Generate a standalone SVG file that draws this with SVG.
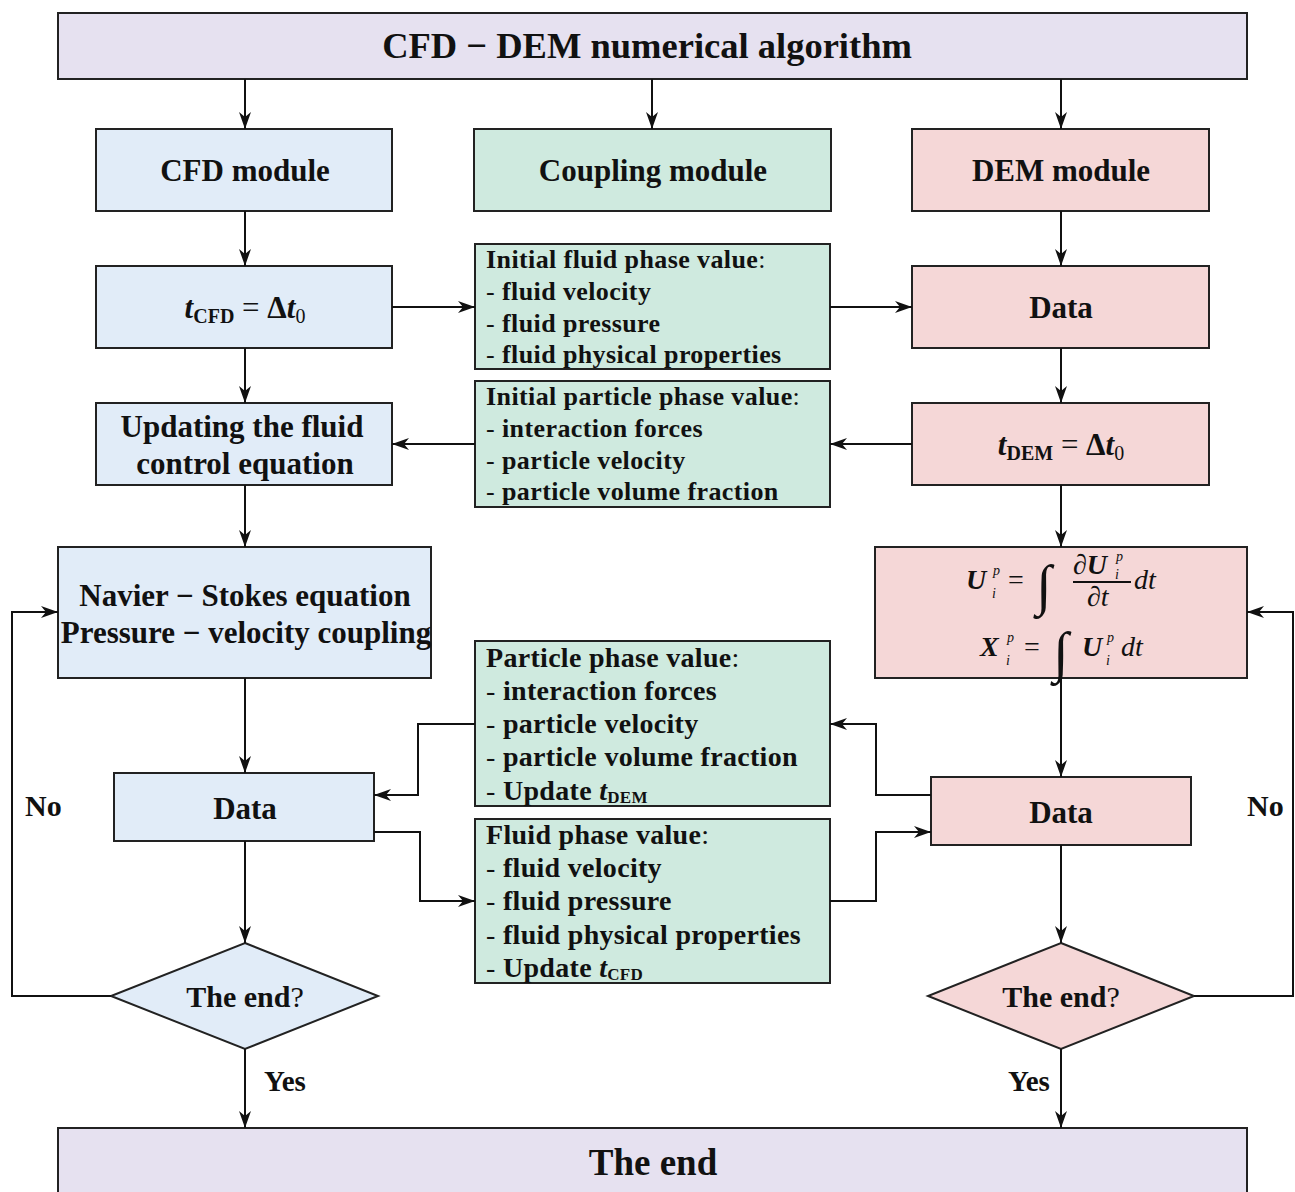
<svg xmlns="http://www.w3.org/2000/svg" width="1295" height="1192" viewBox="0 0 1295 1192">
<defs>
<marker id="ah" markerUnits="userSpaceOnUse" markerWidth="18" markerHeight="14" refX="17" refY="7" orient="auto">
<path d="M0,1 L17,7 L0,13 L5,7 z" fill="#111"/>
</marker>
<style>
.box{stroke:#222;stroke-width:2}
.lav{fill:#e6e1f0}
.blue{fill:#e1ecf8}
.green{fill:#cfeadf}
.pink{fill:#f5d7d7}
.t{font-family:"Liberation Serif","Times New Roman",serif;font-weight:bold;fill:#111}
.s{font-family:"Liberation Serif","Times New Roman",serif;font-style:italic;fill:#111;font-size:14px}
.c{text-anchor:middle}
.l{font-size:26px;letter-spacing:0.4px}
.l2{font-size:28px;letter-spacing:0.3px}
.d{font-weight:normal}
.n{font-weight:normal}
.con{fill:none;stroke:#111;stroke-width:2;marker-end:url(#ah)}
.lin{fill:none;stroke:#111;stroke-width:2}
.it{font-style:italic}
</style>
</defs>

<g id="title">
<rect class="box lav" x="58" y="13" width="1189" height="66"/>
<text class="t c" x="647" y="58" font-size="36.5">CFD − DEM numerical algorithm</text>
</g>

<g id="cfd-module">
<rect class="box blue" x="96" y="129" width="296" height="82"/>
<text class="t c" x="245" y="181" font-size="31">CFD module</text>
</g>
<g id="coupling-module">
<rect class="box green" x="474" y="129" width="357" height="82"/>
<text class="t c" x="653" y="181" font-size="31">Coupling module</text>
</g>
<g id="dem-module">
<rect class="box pink" x="912" y="129" width="297" height="82"/>
<text class="t c" x="1061" y="181" font-size="31">DEM module</text>
</g>

<g id="t-cfd">
<rect class="box blue" x="96" y="266" width="296" height="82"/>
<text class="t c" x="245" y="318" font-size="31"><tspan class="it">t</tspan><tspan font-size="20" dy="5">CFD</tspan><tspan dy="-5" class="n"> = </tspan><tspan>Δ</tspan><tspan class="it">t</tspan><tspan font-size="20" dy="5" class="n">0</tspan></text>
</g>

<g id="initial-fluid">
<rect class="box green" x="475" y="244" width="355" height="125"/>
<text class="t l" x="486" y="268">Initial fluid phase value<tspan class="d">:</tspan></text>
<text class="t l" x="486" y="300"><tspan class="d">- </tspan>fluid velocity</text>
<text class="t l" x="486" y="332"><tspan class="d">- </tspan>fluid pressure</text>
<text class="t l" x="486" y="363"><tspan class="d">- </tspan>fluid physical properties</text>
</g>

<g id="dem-data1">
<rect class="box pink" x="912" y="266" width="297" height="82"/>
<text class="t c" x="1061" y="318" font-size="31">Data</text>
</g>

<g id="updating">
<rect class="box blue" x="96" y="403" width="296" height="82"/>
<text class="t c" x="242" y="437" font-size="31">Updating the fluid</text>
<text class="t c" x="245" y="474" font-size="31">control equation</text>
</g>

<g id="initial-particle">
<rect class="box green" x="475" y="381" width="355" height="126"/>
<text class="t l" x="486" y="405">Initial particle phase value<tspan class="d">:</tspan></text>
<text class="t l" x="486" y="437"><tspan class="d">- </tspan>interaction forces</text>
<text class="t l" x="486" y="469"><tspan class="d">- </tspan>particle velocity</text>
<text class="t l" x="486" y="500"><tspan class="d">- </tspan>particle volume fraction</text>
</g>

<g id="t-dem">
<rect class="box pink" x="912" y="403" width="297" height="82"/>
<text class="t c" x="1061" y="455" font-size="31"><tspan class="it">t</tspan><tspan font-size="20" dy="5">DEM</tspan><tspan dy="-5" class="n"> = </tspan><tspan>Δ</tspan><tspan class="it">t</tspan><tspan font-size="20" dy="5" class="n">0</tspan></text>
</g>

<g id="navier-stokes">
<rect class="box blue" x="58" y="547" width="373" height="131"/>
<text class="t c" x="245" y="606" font-size="31">Navier − Stokes equation</text>
<text class="t c" x="246" y="643" font-size="31">Pressure − velocity coupling</text>
</g>

<g id="dem-integration">
<rect class="box pink" x="875" y="547" width="372" height="131"/>
<text class="t it" x="966" y="589" font-size="28">U</text>
<text class="s" x="993" y="575">p</text>
<text class="s" x="992" y="598">i</text>
<text class="t n" x="1008" y="589" font-size="28">=</text>
<text class="t n" x="1036" y="604" font-size="56">∫</text>
<text class="t n" x="1073" y="574" font-size="28">∂<tspan class="t it">U</tspan></text>
<text class="s" x="1116" y="561">p</text>
<text class="s" x="1115" y="579">i</text>
<line class="lin" x1="1073" y1="582" x2="1131" y2="582" stroke-width="1.5"/>
<text class="t n" x="1087" y="606" font-size="28">∂<tspan class="it">t</tspan></text>
<text class="t n it" x="1134" y="589" font-size="28">dt</text>
<text class="t it" x="980" y="656" font-size="28">X</text>
<text class="s" x="1007" y="642">p</text>
<text class="s" x="1006" y="665">i</text>
<text class="t n" x="1024" y="656" font-size="28">=</text>
<text class="t n" x="1053" y="671" font-size="56">∫</text>
<text class="t it" x="1082" y="656" font-size="28">U</text>
<text class="s" x="1107" y="642">p</text>
<text class="s" x="1106" y="665">i</text>
<text class="t n it" x="1121" y="656" font-size="28">dt</text>
</g>

<g id="particle-phase">
<rect class="box green" x="475" y="641" width="355" height="165"/>
<text class="t l2" x="486" y="667">Particle phase value<tspan class="d">:</tspan></text>
<text class="t l2" x="486" y="700"><tspan class="d">- </tspan>interaction forces</text>
<text class="t l2" x="486" y="733"><tspan class="d">- </tspan>particle velocity</text>
<text class="t l2" x="486" y="766"><tspan class="d">- </tspan>particle volume fraction</text>
<text class="t l2" x="486" y="800"><tspan class="d">- </tspan>Update <tspan class="it">t</tspan><tspan font-size="17" dy="3">DEM</tspan></text>
</g>

<g id="fluid-phase">
<rect class="box green" x="475" y="819" width="355" height="164"/>
<text class="t l2" x="486" y="844">Fluid phase value<tspan class="d">:</tspan></text>
<text class="t l2" x="486" y="877"><tspan class="d">- </tspan>fluid velocity</text>
<text class="t l2" x="486" y="910"><tspan class="d">- </tspan>fluid pressure</text>
<text class="t l2" x="486" y="944"><tspan class="d">- </tspan>fluid physical properties</text>
<text class="t l2" x="486" y="977"><tspan class="d">- </tspan>Update <tspan class="it">t</tspan><tspan font-size="17" dy="3">CFD</tspan></text>
</g>

<g id="cfd-data">
<rect class="box blue" x="114" y="773" width="260" height="68"/>
<text class="t c" x="245" y="819" font-size="31">Data</text>
</g>

<g id="dem-data2">
<rect class="box pink" x="931" y="777" width="260" height="68"/>
<text class="t c" x="1061" y="823" font-size="31">Data</text>
</g>

<g id="cfd-end-check">
<polygon class="box blue" points="245,943 378,996 245,1049 111,996"/>
<text class="t c" x="245" y="1007" font-size="30">The end<tspan class="d">?</tspan></text>
</g>

<g id="dem-end-check">
<polygon class="box pink" points="1061,943 1194,996 1061,1049 928,996"/>
<text class="t c" x="1061" y="1007" font-size="30">The end<tspan class="d">?</tspan></text>
</g>

<g id="the-end">
<rect class="box lav" x="58" y="1128" width="1189" height="70"/>
<text class="t c" x="653" y="1175" font-size="37">The end</text>
</g>

<g id="connectors">
<path class="con" d="M245,79 V129"/>
<path class="con" d="M652,79 V129"/>
<path class="con" d="M1061,79 V129"/>
<path class="con" d="M245,211 V266"/>
<path class="con" d="M1061,211 V266"/>
<path class="con" d="M392,307 H475"/>
<path class="con" d="M830,307 H912"/>
<path class="con" d="M245,348 V403"/>
<path class="con" d="M1061,348 V403"/>
<path class="con" d="M912,444 H830"/>
<path class="con" d="M475,444 H392"/>
<path class="con" d="M245,485 V547"/>
<path class="con" d="M1061,485 V547"/>
<path class="con" d="M245,678 V773"/>
<path class="con" d="M1061,678 V777"/>
<path class="con" d="M475,724 H418 V795 H374"/>
<path class="con" d="M374,832 H420 V901 H475"/>
<path class="con" d="M931,795 H876 V724 H830"/>
<path class="con" d="M830,901 H876 V832 H931"/>
<path class="con" d="M245,841 V943"/>
<path class="con" d="M1061,845 V943"/>
<path class="con" d="M111,996 H12 V612 H58"/>
<path class="con" d="M1194,996 H1293 V612 H1247"/>
<path class="con" d="M245,1049 V1128"/>
<path class="con" d="M1061,1049 V1128"/>
<text class="t" x="25" y="816" font-size="30">No</text>
<text class="t" x="1247" y="816" font-size="30">No</text>
<text class="t" x="264" y="1091" font-size="29">Yes</text>
<text class="t" x="1008" y="1091" font-size="29">Yes</text>
</g>
</svg>
